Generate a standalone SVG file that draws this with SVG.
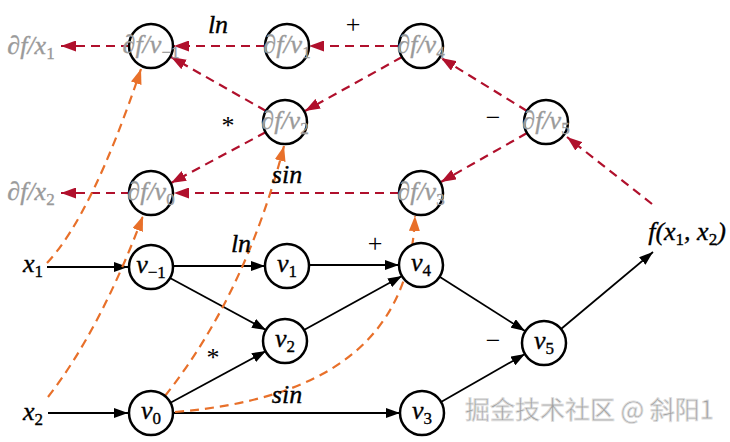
<svg xmlns="http://www.w3.org/2000/svg" width="730" height="442" viewBox="0 0 730 442">
<style>
.n{fill:#fff;stroke:#000;stroke-width:2.5}
.t{font-family:'Liberation Serif','Times New Roman','DejaVu Serif',serif;font-style:italic;font-size:26px;fill:#000;stroke:#000;stroke-width:0.35;text-anchor:middle}
.g{fill:#9a9a9a;stroke:#9a9a9a}
.s{font-size:17px;font-style:normal}
.op{font-family:'Liberation Serif','Times New Roman','DejaVu Serif',serif;font-size:26px;fill:#000;text-anchor:middle}
.fw{stroke:#000;stroke-width:1.8;fill:none;marker-end:url(#ab)}
.bw{stroke:#b0102c;stroke-width:2.2;fill:none;stroke-dasharray:9 6;marker-end:url(#ar)}
.tg{stroke:#e8702a;stroke-width:2.2;fill:none;stroke-dasharray:9 6;marker-end:url(#ao)}
.wm{font-family:'Noto Sans CJK SC','Liberation Sans',sans-serif;font-size:25px;fill:#a0a0a0;stroke:#e0e0e0;stroke-width:0.8}
</style>
<defs>
<marker id="ab" viewBox="0 0 14 10" refX="14" refY="5" markerWidth="14" markerHeight="10" markerUnits="userSpaceOnUse" orient="auto"><path d="M0,0 L14,5 L0,10 z" fill="#000"/></marker>
<marker id="ar" viewBox="0 0 15 11" refX="15" refY="5.5" markerWidth="15" markerHeight="11" markerUnits="userSpaceOnUse" orient="auto"><path d="M0,0 L15,5.5 L0,11 z" fill="#b0102c"/></marker>
<marker id="ao" viewBox="0 0 15 11" refX="15" refY="5.5" markerWidth="15" markerHeight="11" markerUnits="userSpaceOnUse" orient="auto"><path d="M0,0 L15,5.5 L0,11 z" fill="#e8702a"/></marker>
</defs>
<g id="connectors">
<line class="fw" x1="47" y1="267" x2="128" y2="267"/>
<line class="fw" x1="48" y1="413" x2="128" y2="413"/>
<line class="fw" x1="173" y1="266" x2="265" y2="266"/>
<line class="fw" x1="170" y1="278" x2="266" y2="330"/>
<line class="fw" x1="170" y1="403" x2="266" y2="351"/>
<line class="fw" x1="173" y1="413" x2="400" y2="413"/>
<line class="fw" x1="309" y1="265" x2="399" y2="265"/>
<line class="fw" x1="304" y1="330" x2="402" y2="276"/>
<line class="fw" x1="440" y1="277" x2="525" y2="331"/>
<line class="fw" x1="441" y1="402" x2="525" y2="354"/>
<line class="fw" x1="561" y1="329" x2="653" y2="252"/>
<line class="bw" x1="399" y1="46" x2="309" y2="46"/>
<line class="bw" x1="265" y1="46" x2="174" y2="46"/>
<line class="bw" x1="130" y1="46" x2="61" y2="46"/>
<line class="bw" x1="266" y1="111" x2="171" y2="57"/>
<line class="bw" x1="402" y1="57" x2="305" y2="111"/>
<line class="bw" x1="527" y1="111" x2="441" y2="58"/>
<line class="bw" x1="527" y1="133" x2="441" y2="182"/>
<line class="bw" x1="652" y1="204" x2="567" y2="137"/>
<line class="bw" x1="266" y1="132" x2="171" y2="183"/>
<line class="bw" x1="399" y1="193" x2="174" y2="193"/>
<line class="bw" x1="130" y1="193" x2="61" y2="193"/>
<path class="tg" d="M47,263 Q92,215 141,69"/>
<path class="tg" d="M48,397 Q100,330 143,216"/>
<path class="tg" d="M165,396 Q245,295 284,146"/>
<path class="tg" d="M175,412 C320,400 410,345 415,216"/>
</g>
<g id="n_dvm1"><circle class="n" cx="151" cy="46" r="22"/><text class="t g" x="151" y="53">∂f/v<tspan class="s" dy="5">−1</tspan></text></g>
<g id="n_dv1"><circle class="n" cx="287" cy="46" r="22"/><text class="t g" x="287" y="53">∂f/v<tspan class="s" dy="5">1</tspan></text></g>
<g id="n_dv4"><circle class="n" cx="421" cy="46" r="22"/><text class="t g" x="421" y="53">∂f/v<tspan class="s" dy="5">4</tspan></text></g>
<g id="n_dv2"><circle class="n" cx="285" cy="122" r="22"/><text class="t g" x="285" y="129">∂f/v<tspan class="s" dy="5">2</tspan></text></g>
<g id="n_dv5"><circle class="n" cx="546" cy="122" r="22"/><text class="t g" x="546" y="129">∂f/v<tspan class="s" dy="5">5</tspan></text></g>
<g id="n_dv0"><circle class="n" cx="151" cy="193" r="22"/><text class="t g" x="151" y="200">∂f/v<tspan class="s" dy="5">0</tspan></text></g>
<g id="n_dv3"><circle class="n" cx="421" cy="193" r="22"/><text class="t g" x="421" y="200">∂f/v<tspan class="s" dy="5">3</tspan></text></g>
<g id="n_vm1"><circle class="n" cx="151" cy="267" r="22"/><text class="t" x="151" y="273">v<tspan class="s" dy="5">−1</tspan></text></g>
<g id="n_v1"><circle class="n" cx="287" cy="266" r="22"/><text class="t" x="287" y="272">v<tspan class="s" dy="5">1</tspan></text></g>
<g id="n_v2"><circle class="n" cx="285" cy="341" r="22"/><text class="t" x="285" y="347">v<tspan class="s" dy="5">2</tspan></text></g>
<g id="n_v4"><circle class="n" cx="421" cy="265" r="22"/><text class="t" x="421" y="271">v<tspan class="s" dy="5">4</tspan></text></g>
<g id="n_v0"><circle class="n" cx="151" cy="413" r="22"/><text class="t" x="151" y="419">v<tspan class="s" dy="5">0</tspan></text></g>
<g id="n_v3"><circle class="n" cx="422" cy="413" r="22"/><text class="t" x="422" y="419">v<tspan class="s" dy="5">3</tspan></text></g>
<g id="n_v5"><circle class="n" cx="544" cy="343" r="22"/><text class="t" x="544" y="349">v<tspan class="s" dy="5">5</tspan></text></g>
<g id="labels">
<text class="t g" x="31" y="54">∂f/x<tspan class="s" dy="5">1</tspan></text>
<text class="t g" x="31" y="200">∂f/x<tspan class="s" dy="5">2</tspan></text>
<text class="t" x="33" y="272">x<tspan class="s" dy="5">1</tspan></text>
<text class="t" x="33" y="420">x<tspan class="s" dy="5">2</tspan></text>
<text class="t" x="687" y="240">f(x<tspan class="s" dy="5">1</tspan><tspan dy="-5">, x</tspan><tspan class="s" dy="5">2</tspan><tspan dy="-5">)</tspan></text>
<text class="t" x="218" y="33">ln</text>
<text class="t" x="241" y="252">ln</text>
<text class="op" x="353" y="33">+</text>
<text class="op" x="375" y="252">+</text>
<text class="op" x="228" y="134">*</text>
<text class="op" x="213" y="366">*</text>
<text class="t" x="287" y="183">sin</text>
<text class="t" x="287" y="403">sin</text>
<text class="op" x="493" y="126">−</text>
<text class="op" x="493" y="349">−</text>
<text class="wm" x="465" y="419">掘金技术社区 @ 斜阳1</text>
</g>
</svg>
